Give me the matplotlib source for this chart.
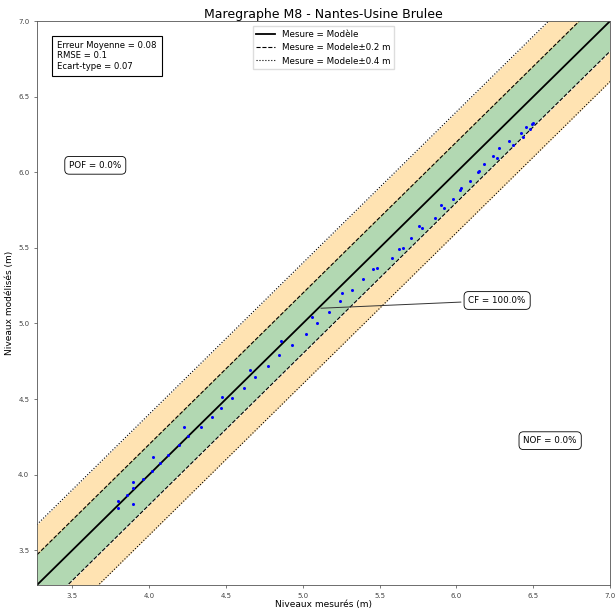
import numpy as np
import matplotlib
matplotlib.use('Agg')
import matplotlib.pyplot as plt

# niveaux mesurés / modélisés (m)
mesures = [3.799, 3.799, 3.858, 3.897, 3.897, 3.897, 3.958, 4.017, 4.027, 4.071,
           4.125, 4.196, 4.229, 4.255, 4.338, 4.407, 4.468, 4.472, 4.538, 4.618,
           4.657, 4.689, 4.776, 4.848, 4.857, 4.928, 5.019, 5.058, 5.091, 5.173,
           5.243, 5.258, 5.323, 5.390, 5.459, 5.484, 5.579, 5.629, 5.651, 5.703,
           5.759, 5.778, 5.861, 5.900, 5.920, 5.980, 6.024, 6.030, 6.091, 6.139,
           6.148, 6.182, 6.241, 6.263, 6.280, 6.343, 6.371, 6.421, 6.436, 6.454,
           6.480, 6.491, 6.501]
modeles = [3.823, 3.777, 3.866, 3.949, 3.912, 3.804, 3.969, 4.022, 4.115, 4.078,
           4.132, 4.196, 4.318, 4.254, 4.318, 4.380, 4.442, 4.512, 4.510, 4.576,
           4.695, 4.644, 4.718, 4.793, 4.881, 4.859, 4.932, 5.042, 5.005, 5.075,
           5.148, 5.201, 5.220, 5.294, 5.362, 5.366, 5.436, 5.495, 5.502, 5.568,
           5.643, 5.634, 5.698, 5.786, 5.764, 5.826, 5.885, 5.899, 5.940, 5.999,
           6.007, 6.053, 6.106, 6.097, 6.161, 6.208, 6.179, 6.261, 6.234, 6.300,
           6.283, 6.318, 6.327]

titre = "Maregraphe M8 - Nantes-Usine Brulee"
stats = "Erreur Moyenne = 0.08\nRMSE = 0.1\nEcart-type = 0.07"
pof, cf, nof = 0.0, 100.0, 0.0

vmin, vmax = 3.27, 7.0

fig = plt.figure(figsize=(6.15, 6.12), dpi=100)
ax = fig.add_axes([0.060, 0.044, 0.932, 0.9216])

x = np.array([vmin, vmax])
ax.fill_between(x, x - 0.2, x + 0.2, color='green', alpha=0.3, lw=0)
ax.fill_between(x, x + 0.2, x + 0.4, color='orange', alpha=0.3, lw=0)
ax.fill_between(x, x - 0.4, x - 0.2, color='orange', alpha=0.3, lw=0)

ax.plot(x, x, 'k-', lw=1.3, label='Mesure = Modèle')
ax.plot(x, x + 0.2, 'k--', lw=0.8, label='Mesure = Modele±0.2 m')
ax.plot(x, x - 0.2, 'k--', lw=0.8)
ax.plot(x, x + 0.4, 'k:', lw=0.8, label='Mesure = Modele±0.4 m')
ax.plot(x, x - 0.4, 'k:', lw=0.8)

ax.plot(mesures, modeles, 'o', color='blue', ms=2.2, mew=0)

ax.set_xlim(vmin, vmax)
ax.set_ylim(vmin, vmax)
ax.tick_params(labelsize=5, length=2, width=0.5, colors='#444444')
for s in ax.spines.values():
    s.set_linewidth(0.6)
    s.set_color('#555555')

ax.set_title(titre, fontsize=9, pad=2)
ax.set_xlabel('Niveaux mesurés (m)', fontsize=6.5, labelpad=1)
ax.set_ylabel('Niveaux modélisés (m)', fontsize=6.5, labelpad=3)

ax.legend(loc='upper center', fontsize=6.3, framealpha=1, edgecolor='#dddddd',
          fancybox=False, handlelength=2.2, borderaxespad=0.6)

ax.text(0.035, 0.965, stats, transform=ax.transAxes, fontsize=6.1, va='top',
        bbox=dict(boxstyle='square,pad=0.6', fc='white', ec='black', lw=0.8))

bb = dict(boxstyle='round,pad=0.5', fc='white', ec='black', lw=0.6)
ax.text(3.65, 6.046, 'POF = %.1f%%' % pof, fontsize=6.3, ha='center', va='center', bbox=bb)
ax.annotate('CF = %.1f%%' % cf, xy=(5.1, 5.1), xytext=(6.265, 5.152), fontsize=6.3,
            ha='center', va='center', bbox=bb,
            arrowprops=dict(arrowstyle='-', color='#333333', lw=0.7))
ax.text(6.61, 4.225, 'NOF = %.1f%%' % nof, fontsize=6.3, ha='center', va='center', bbox=bb)

fig.savefig('out.png', dpi=100)
